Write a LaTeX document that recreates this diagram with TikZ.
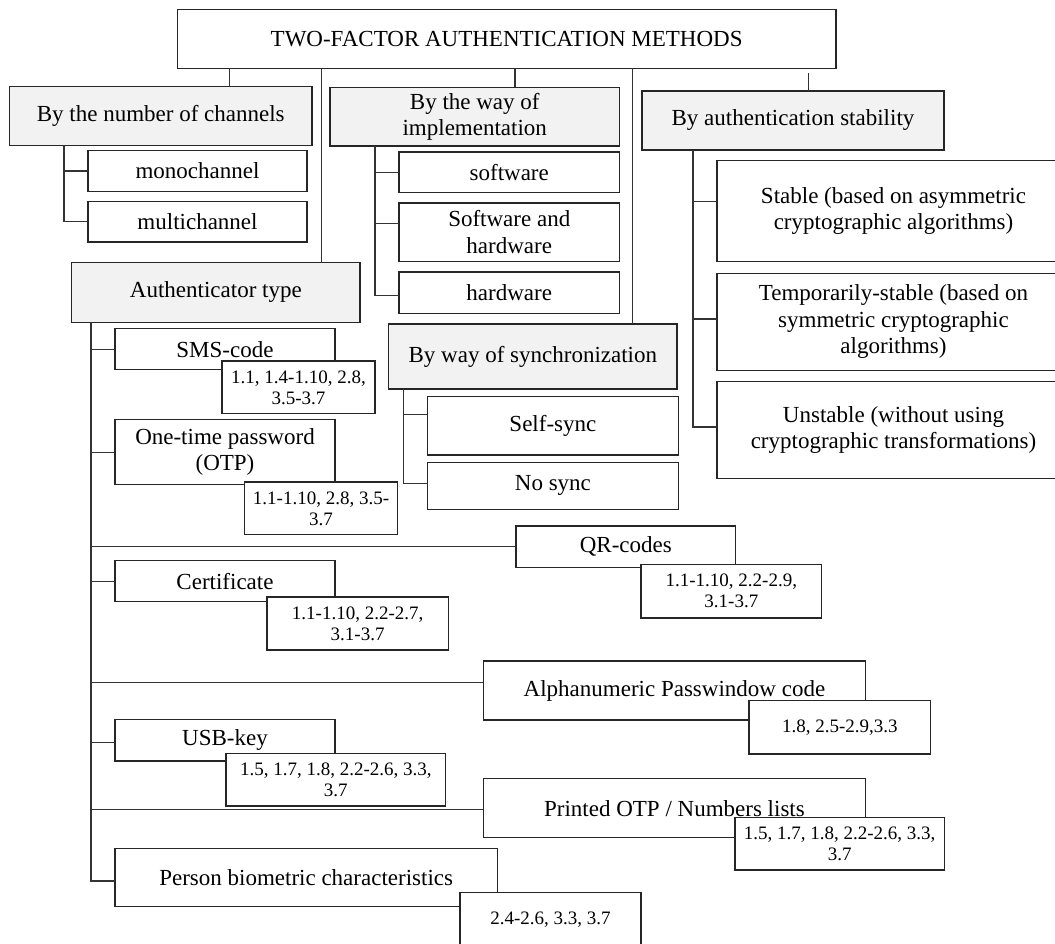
\documentclass[tikz,border=0pt]{standalone}
\usepackage{fontspec}
\setmainfont{Liberation Serif}
% box given by its top-left and bottom-right corners
\newcommand{\placebox}[7]{%
  \node[#2, anchor=north west, minimum width={#5pt-#3pt}, minimum height={#6pt-#4pt}] (#1) at (#3,#4) {#7};}
\begin{document}
\begin{tikzpicture}[x=1pt,y=-1pt,
  every node/.style={inner sep=0pt, outer sep=0pt, align=center},
  plain/.style={draw=black!85, line width=1.2pt, fill=white, font=\fontsize{23}{26.5}\selectfont},
  head/.style={plain, fill=black!5},
  ref/.style={plain, font=\fontsize{19}{21}\selectfont},
  link/.style={draw=black!80, line width=1.3pt}]
\useasboundingbox (0,0) rectangle (1055,944);
\clip (0,0) rectangle (1055,944);

% root
\placebox{top}{plain}{177.3}{9.3}{836}{68.3}{TWO-FACTOR AUTHENTICATION METHODS}

% by number of channels
\placebox{chan}{head}{9.5}{86.5}{312}{145.5}{By the number of channels}
\placebox{mono}{plain}{88}{150.5}{307}{191.5}{monochannel}
\placebox{multi}{plain}{88}{201.5}{307}{242}{multichannel}

% by implementation
\placebox{impl}{head}{330}{87.5}{619.5}{146}{By the way of\\implementation}
\placebox{sw}{plain}{399}{152}{619.5}{192.5}{software}
\placebox{swhw}{plain}{399}{203}{619.5}{261.5}{Software and\\hardware}
\placebox{hw}{plain}{399}{272}{619.5}{313.5}{hardware}

% by stability
\placebox{stab}{head}{642}{91}{944}{150}{By authentication stability}
\placebox{stable}{plain}{717}{160.3}{1070}{261.3}{Stable (based on asymmetric\\cryptographic algorithms)}
\placebox{temp}{plain}{717}{273.3}{1070}{370.7}{Temporarily-stable (based on\\symmetric cryptographic\\algorithms)}
\placebox{unst}{plain}{717}{381.5}{1070}{478.5}{Unstable (without using\\cryptographic transformations)}

% by synchronization
\placebox{sync}{head}{388.7}{324}{677}{389}{By way of synchronization}
\placebox{self}{plain}{427.5}{396.3}{678.3}{455}{Self-sync}
\placebox{nosync}{plain}{427.5}{462.3}{678.3}{509.3}{No sync}

% authenticator types
\placebox{auth}{head}{71.7}{262.7}{360}{322.3}{Authenticator type}
\placebox{sms}{plain}{115}{328.7}{335}{369.7}{SMS-code}
\placebox{smsref}{ref}{222}{361}{375}{413.7}{1.1, 1.4-1.10, 2.8,\\3.5-3.7}
\placebox{otp}{plain}{115}{419.7}{335}{484.7}{One-time password\\(OTP)}
\placebox{otpref}{ref}{244.4}{482}{397.6}{534.7}{1.1-1.10, 2.8, 3.5-\\3.7}
\placebox{qr}{plain}{516}{526}{735.6}{567.3}{QR-codes}
\placebox{qrref}{ref}{641}{564.3}{821.7}{618}{1.1-1.10, 2.2-2.9,\\3.1-3.7}
\placebox{cert}{plain}{115}{560.7}{335}{601.7}{Certificate}
\placebox{certref}{ref}{267}{597}{448.3}{650}{1.1-1.10, 2.2-2.7,\\3.1-3.7}
\placebox{alpha}{plain}{483.4}{661}{865.5}{720}{Alphanumeric Passwindow code}
\placebox{alpharef}{ref}{749}{700.3}{930.6}{754}{1.8, 2.5-2.9,3.3}
\placebox{usb}{plain}{115}{719.7}{335}{761}{USB-key}
\placebox{usbref}{ref}{226}{753.3}{445.6}{806}{1.5, 1.7, 1.8, 2.2-2.6, 3.3,\\3.7}
\placebox{print}{plain}{483.4}{778.7}{865.5}{837.7}{Printed OTP / Numbers lists}
\placebox{printref}{ref}{735}{817.3}{944.3}{870}{1.5, 1.7, 1.8, 2.2-2.6, 3.3,\\3.7}
\placebox{person}{plain}{115}{848.3}{497.3}{906.7}{Person biometric characteristics}
\placebox{personref}{ref}{460}{892.3}{641}{948}{2.4-2.6, 3.3, 3.7}

% vertical feeds and bracket rails
\coordinate (xa) at (229.3,0);
\coordinate (xb) at (321.5,0);
\coordinate (xc) at (515,0);
\coordinate (xd) at (632.6,0);
\coordinate (xe) at (808.7,0);
\coordinate (railA) at (64,0);
\coordinate (railB) at (375,0);
\coordinate (railC) at (693,0);
\coordinate (railD) at (403.7,0);
\coordinate (railE) at (91,0);
% stub heights
\coordinate (s2) at (0,223.3);
\coordinate (s3) at (0,295.3);
\coordinate (t1) at (0,201.3);
\coordinate (t2) at (0,319);
\coordinate (t3) at (0,427);
\coordinate (u1) at (0,414.7);
\coordinate (u2) at (0,483.3);
\coordinate (v5) at (0,682.3);
\coordinate (v6) at (0,742.7);
\coordinate (v7) at (0,809.7);
\coordinate (v8) at (0,881);

% from the root
\draw[link] (top.south -| xa) -- (chan.north -| xa);
\draw[link] (top.south -| xb) -- (auth.north -| xb);
\draw[link] (top.south -| xc) -- (impl.north -| xc);
\draw[link] (top.south -| xd) -- (sync.north -| xd);
\draw[link, shorten <=5pt] (top.south -| xe) -- (stab.north -| xe);

% channels
\draw[link] (chan.south -| railA) |- (multi.west);
\draw[link] (mono.west -| railA) -- (mono.west);

% implementation
\draw[link] (impl.south -| railB) |- (hw.west |- s3);
\draw[link] (sw.west -| railB) -- (sw.west);
\draw[link] (railB |- s2) -- (swhw.west |- s2);

% stability
\draw[link] (stab.south -| railC) |- (unst.west |- t3);
\draw[link] (railC |- t1) -- (stable.west |- t1);
\draw[link] (railC |- t2) -- (temp.west |- t2);

% synchronization
\draw[link] (sync.south -| railD) |- (nosync.west |- u2);
\draw[link] (railD |- u1) -- (self.west |- u1);

% authenticator types
\draw[link] (auth.south -| railE) |- (person.west |- v8);
\foreach \n in {sms,otp,qr,cert}
  \draw[link] (\n.west -| railE) -- (\n.west);
\draw[link] (railE |- v5) -- (alpha.west |- v5);
\draw[link] (railE |- v6) -- (usb.west |- v6);
\draw[link] (railE |- v7) -- (print.west |- v7);
\end{tikzpicture}
\end{document}
